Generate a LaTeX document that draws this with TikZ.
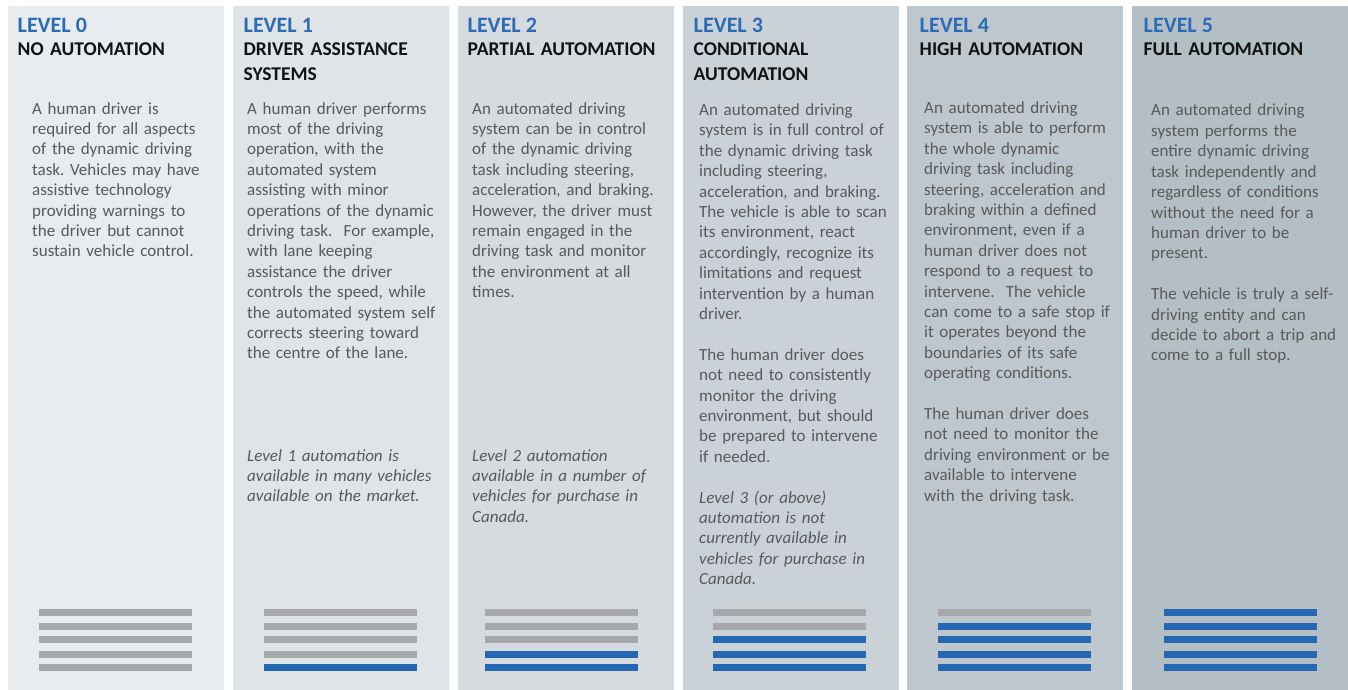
\documentclass[tikz,border=0pt]{standalone}
\usepackage{fontspec}
\setmainfont{Carlito}
\usepackage{xcolor}
\usepackage{tikz}
\frenchspacing

\definecolor{panelA}{HTML}{E8ECEF}
\definecolor{panelB}{HTML}{DFE4E7}
\definecolor{panelC}{HTML}{D5DBDF}
\definecolor{panelD}{HTML}{CAD2D8}
\definecolor{panelE}{HTML}{BFC7CE}
\definecolor{panelF}{HTML}{B4BFC5}
\definecolor{lvlblue}{HTML}{2C6CB6}
\definecolor{barblue}{HTML}{2468B4}
\definecolor{bargray}{HTML}{A7A8AB}
\definecolor{bodygray}{HTML}{595959}

\begin{document}
\begin{tikzpicture}[
        x=1pt, y=-1pt,
        panel/.style={draw=none, minimum width=216pt, minimum height=684pt, inner sep=0pt},
        levellabel/.style={anchor=base west, inner sep=0pt, text=lvlblue, font=\bfseries\fontsize{22}{26}\selectfont},
        titlelabel/.style={anchor=base west, inner sep=0pt, text width=210pt, align=left, text=black!93, font=\bfseries\fontsize{19.5}{24.5}\selectfont},
        bodytext/.style={anchor=base west, inner sep=0pt, text width=205pt, align=left, text=bodygray, font=\fontsize{17}{20.4}\selectfont},
        notetext/.style={bodytext, font=\itshape\fontsize{17}{20.4}\selectfont},
        graybar/.style={fill=bargray},
        bluebar/.style={fill=barblue}
    ]
    \useasboundingbox[fill=white] (0,0) rectangle (1348,690);

    % Paneles
    \node[panel, fill=panelA] (panel0) at (116,348) {};
    \node[panel, fill=panelB] (panel1) at (341,348) {};
    \node[panel, fill=panelC] (panel2) at (566,348) {};
    \node[panel, fill=panelD] (panel3) at (791,348) {};
    \node[panel, fill=panelE] (panel4) at (1015,348) {};
    \node[panel, fill=panelF] (panel5) at (1240,348) {};

    % Nivel 0
    \node[levellabel] (lvl0) at (17.5,33) {LEVEL 0};
    \node[titlelabel] (title0) at (17.5,56) {NO AUTOMATION};
    \node[bodytext] (body0) at (32,114) {A human driver is\\ required for all aspects\\ of the dynamic driving\\ task. Vehicles may have\\ assistive technology\\ providing warnings to\\ the driver but cannot\\ sustain vehicle control.};

    % Nivel 1
    \node[levellabel] (lvl1) at (243.5,33) {LEVEL 1};
    \node[titlelabel] (title1) at (243.5,56) {DRIVER ASSISTANCE\\ SYSTEMS};
    \node[bodytext] (body1) at (247,114) {A human driver performs\\ most of the driving\\ operation, with the\\ automated system\\ assisting with minor\\ operations of the dynamic\\ driving task.~ For example,\\ with lane keeping\\ assistance the driver\\ controls the speed, while\\ the automated system self\\ corrects steering toward\\ the centre of the lane.};
    \node[notetext] (note1) at (247,461) {Level 1 automation is\\ available in many vehicles\\ available on the market.};

    % Nivel 2
    \node[levellabel] (lvl2) at (467.5,33) {LEVEL 2};
    \node[titlelabel] (title2) at (467.5,56) {PARTIAL AUTOMATION};
    \node[bodytext] (body2) at (472,114) {An automated driving\\ system can be in control\\ of the dynamic driving\\ task including steering,\\ acceleration, and braking.\\ However, the driver must\\ remain engaged in the\\ driving task and monitor\\ the environment at all\\ times.};
    \node[notetext] (note2) at (472,461) {Level 2 automation\\ available in a number of\\ vehicles for purchase in\\ Canada.};

    % Nivel 3
    \node[levellabel] (lvl3) at (693.5,33) {LEVEL 3};
    \node[titlelabel] (title3) at (693.5,56) {CONDITIONAL\\ AUTOMATION};
    \node[bodytext] (body3) at (699,115.5) {An automated driving\\ system is in full control of\\ the dynamic driving task\\ including steering,\\ acceleration, and braking.\\ The vehicle is able to scan\\ its environment, react\\ accordingly, recognize its\\ limitations and request\\ intervention by a human\\ driver.\\[20.4pt] The human driver does\\ not need to consistently\\ monitor the driving\\ environment, but should\\ be prepared to intervene\\ if needed.};
    \node[notetext] (note3) at (699,503) {Level 3 (or above)\\ automation is not\\ currently available in\\ vehicles for purchase in\\ Canada.};

    % Nivel 4
    \node[levellabel] (lvl4) at (919.5,33) {LEVEL 4};
    \node[titlelabel] (title4) at (919.5,56) {HIGH AUTOMATION};
    \node[bodytext] (body4) at (924,113.5) {An automated driving\\ system is able to perform\\ the whole dynamic\\ driving task including\\ steering, acceleration and\\ braking within a defined\\ environment, even if a\\ human driver does not\\ respond to a request to\\ intervene.~ The vehicle\\ can come to a safe stop if\\ it operates beyond the\\ boundaries of its safe\\ operating conditions.\\[20.4pt] The human driver does\\ not need to monitor the\\ driving environment or be\\ available to intervene\\ with the driving task.};

    % Nivel 5
    \node[levellabel] (lvl5) at (1143.5,33) {LEVEL 5};
    \node[titlelabel] (title5) at (1143.5,56) {FULL AUTOMATION};
    \node[bodytext] (body5) at (1151,116) {An automated driving\\ system performs the\\ entire dynamic driving\\ task independently and\\ regardless of conditions\\ without the need for a\\ human driver to be\\ present.\\[20.4pt] The vehicle is truly a self-\\ driving entity and can\\ decide to abort a trip and\\ come to a full stop.};

    % Barras
    \foreach \y in {609,623,636,651,664} \fill[graybar] (39,\y) rectangle ++(153,7);

    \foreach \y in {609,623,636,651} \fill[graybar] (264,\y) rectangle ++(153,7);
    \fill[bluebar] (264,664) rectangle ++(153,7);

    \foreach \y in {609,623,636} \fill[graybar] (485,\y) rectangle ++(153,7);
    \foreach \y in {651,664} \fill[bluebar] (485,\y) rectangle ++(153,7);

    \foreach \y in {609,623} \fill[graybar] (713,\y) rectangle ++(153,7);
    \foreach \y in {636,651,664} \fill[bluebar] (713,\y) rectangle ++(153,7);

    \fill[graybar] (938,609) rectangle ++(153,7);
    \foreach \y in {623,636,651,664} \fill[bluebar] (938,\y) rectangle ++(153,7);

    \foreach \y in {609,623,636,651,664} \fill[bluebar] (1164,\y) rectangle ++(153,7);

\end{tikzpicture}
\end{document}
